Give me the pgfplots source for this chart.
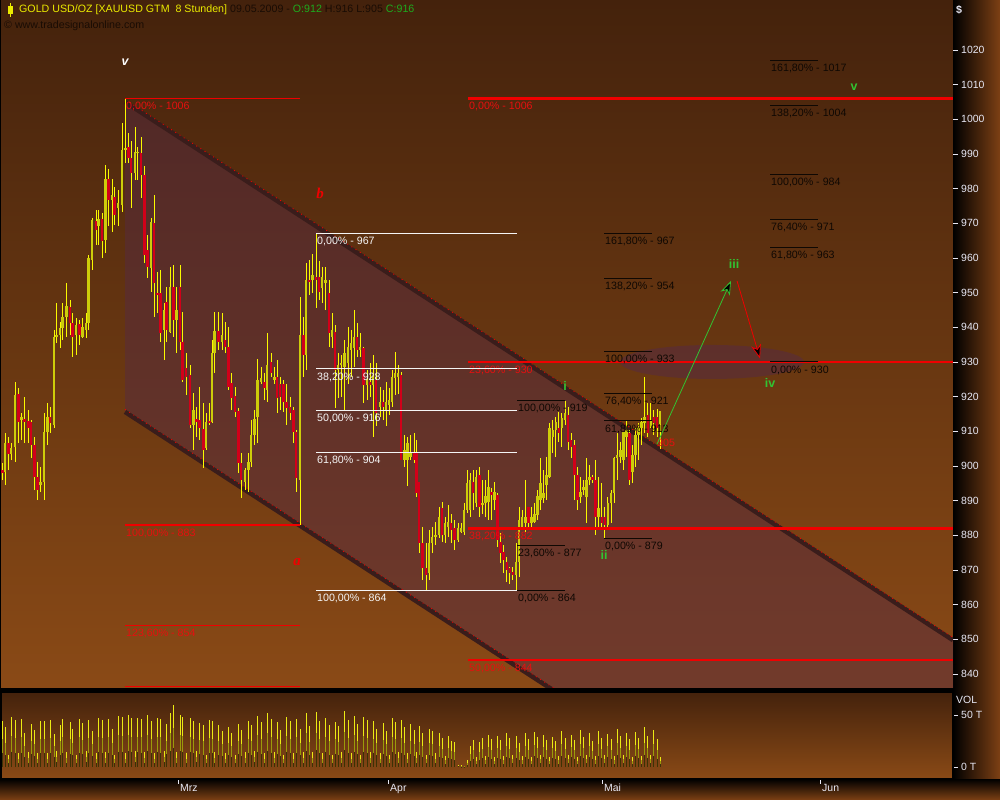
\documentclass[border=0pt]{standalone}
\usepackage{fontspec}
\setmainfont{Liberation Sans}
\newfontfamily\lserif{Liberation Serif}
\usepackage{pgfplots}
\pgfplotsset{compat=1.18}
\usepackage{pgfplotstable}
\usetikzlibrary{arrows.meta}

\definecolor{bgtop}{RGB}{68,34,12}
\definecolor{bgbot}{RGB}{138,74,22}
\definecolor{axisbrown}{RGB}{125,64,20}
\definecolor{chan}{RGB}{86,42,69}
\definecolor{chanline}{RGB}{58,29,27}
\definecolor{fibred}{RGB}{240,0,0}
\definecolor{labred}{RGB}{230,15,15}
\definecolor{labblack}{RGB}{15,8,3}
\definecolor{labwhite}{RGB}{245,245,245}
\definecolor{wick}{RGB}{250,250,0}
\definecolor{upbody}{RGB}{205,205,10}
\definecolor{downbody}{RGB}{210,0,25}
\definecolor{wavegreen}{RGB}{50,195,50}
\definecolor{ticklab}{RGB}{232,232,244}
\definecolor{hdrdark}{RGB}{25,12,4}
\definecolor{hdryellow}{RGB}{235,235,0}
\definecolor{hdrgreen}{RGB}{30,170,30}
\definecolor{volhi}{RGB}{235,235,20}
\definecolor{volmid}{RGB}{155,155,10}
\definecolor{vollo}{RGB}{60,50,5}

\newcommand{\lab}{\fontsize{10.7}{12}\selectfont}
\newcommand{\wave}{\fontsize{12.5}{14}\selectfont\bfseries}

\newcommand{\fib}[6]{%
  \draw[#1, line width=#2] (axis cs:#3,#5) -- (axis cs:#4,#5);
  \node[anchor=north west, inner sep=0pt, text=#1, font=\lab, xshift=1bp, yshift=-3.5bp] at (axis cs:#3,#5) {#6};}
\newcommand{\fibt}[7]{%
  \draw[#1, line width=#2] (axis cs:#3,#5) -- (axis cs:#4,#5);
  \node[anchor=north west, inner sep=0pt, text=#7, font=\lab, xshift=1bp, yshift=-3.5bp] at (axis cs:#3,#5) {#6};}

\pgfplotstableread{
x o h l c v
2.7 898.8 900.8 895.9 897.9 44
5.0 898.3 909.4 894.5 906.5 38
8.3 906.5 908.4 898.8 903.6 12
11.0 903.6 906.5 901.7 905.1 48
15.0 905.6 924.3 901.2 920.5 45
18.3 920.8 922.4 906.5 912.8 13
21.7 913.3 915.2 907.5 914.0 46
24.3 913.7 920.0 906.5 912.8 33
28.3 913.0 916.1 906.5 910.9 14
31.0 912.8 913.3 902.2 906.0 41
34.3 906.0 908.4 893.1 896.9 36
37.3 896.9 901.2 890.2 893.1 13
40.7 894.5 899.8 892.6 895.5 44
44.0 895.5 915.2 890.2 909.9 44
47.3 909.9 918.1 906.0 914.2 13
50.0 914.2 917.1 909.4 912.3 45
54.0 911.8 939.2 910.9 937.3 32
56.7 937.3 946.9 935.4 937.8 15
60.0 937.8 941.6 933.9 939.7 40
62.7 939.7 946.9 936.3 943.1 46
66.7 943.1 952.7 937.3 946.2 14
70.0 946.0 947.9 937.8 941.2 43
72.7 941.2 944.0 931.5 937.3 37
76.0 937.8 942.6 932.0 940.7 12
79.3 941.0 942.1 934.9 937.8 46
82.7 937.3 942.6 936.8 940.0 42
86.0 939.2 944.0 936.8 941.2 15
88.7 941.2 960.9 939.2 959.9 45
92.0 959.4 971.5 956.6 971.0 35
96.0 970.7 973.9 963.8 968.1 13
98.7 969.1 973.9 963.8 971.3 47
102.0 971.2 972.9 959.9 965.0 45
105.3 965.2 986.9 961.4 982.7 14
108.7 982.7 985.6 969.1 976.8 46
112.0 976.8 982.7 967.6 978.2 37
114.7 977.7 980.6 969.5 972.4 12
118.0 974.3 979.6 969.1 975.8 49
122.0 975.3 998.9 973.4 991.2 48
125.3 991.2 1006.0 987.3 991.7 13
128.3 992.0 996.0 987.3 988.8 50
131.0 988.8 993.6 974.3 984.5 47
135.0 984.5 997.9 982.5 990.7 15
137.7 990.2 992.1 982.5 990.7 47
141.0 990.2 995.0 977.2 984.0 46
144.3 984.0 986.4 958.5 960.9 14
147.7 962.3 966.7 954.1 957.5 50
151.0 957.0 971.5 950.3 970.5 44
154.0 970.0 978.2 943.1 952.7 13
157.3 950.0 956.1 944.0 949.3 47
160.7 949.8 956.6 935.9 938.5 46
164.0 939.2 946.9 930.6 945.0 15
166.7 947.4 951.7 935.9 939.2 41
170.0 938.7 957.5 938.3 951.7 52
173.3 951.7 958.0 937.3 942.1 60
176.7 942.1 951.7 932.5 945.0 14
180.0 951.7 958.0 933.5 935.9 50
182.7 935.9 944.5 924.3 924.8 48
186.0 928.2 932.5 920.5 925.8 13
190.0 926.2 929.1 910.9 911.8 47
193.3 911.8 921.0 904.6 916.2 44
196.7 913.7 917.1 908.5 912.8 15
199.3 913.3 922.9 907.5 910.9 42
203.3 910.6 918.1 899.3 904.6 40
206.0 905.1 915.2 904.6 912.8 12
209.3 913.0 918.1 911.8 912.3 45
212.0 912.8 936.3 912.3 932.5 44
214.3 932.5 944.5 926.7 939.0 14
218.7 938.9 944.5 933.5 935.9 40
222.0 935.9 944.0 933.5 937.8 35
225.0 936.3 941.6 932.5 934.4 13
228.3 934.4 940.2 921.9 922.9 38
231.7 923.8 926.7 916.2 919.5 33
235.0 920.2 922.9 914.2 915.7 12
238.3 916.0 916.6 897.9 900.8 41
241.0 900.8 903.7 890.7 896.0 36
245.0 895.5 899.3 893.1 898.8 14
248.3 898.8 903.7 892.6 901.2 44
251.0 901.2 913.3 899.8 908.9 40
254.3 908.9 916.2 906.1 913.7 15
257.7 914.2 931.0 906.5 924.8 49
261.0 924.3 928.7 923.8 925.3 43
264.3 924.3 926.7 919.0 922.4 13
267.0 921.9 938.3 918.6 929.1 52
271.0 930.1 932.5 925.8 926.7 46
274.3 924.8 928.7 923.8 925.8 14
277.0 925.8 930.6 915.2 919.5 43
280.0 923.8 925.8 916.2 920.0 36
283.3 923.8 924.8 915.7 918.6 12
286.7 918.6 923.8 911.8 916.6 48
290.0 917.1 920.0 913.3 915.2 44
293.3 916.2 917.1 906.5 909.9 13
296.0 909.9 910.4 892.6 896.5 46
300.0 896.0 948.8 883.0 937.8 37
303.3 937.8 943.1 925.8 932.0 14
306.0 932.0 958.5 927.7 953.7 52
309.3 953.8 959.4 949.3 953.2 39
312.7 953.7 961.3 949.8 955.1 14
316.0 954.6 967.0 945.5 953.7 53
319.0 954.6 959.0 947.9 950.3 44
322.0 951.2 957.5 946.9 954.6 13
325.7 952.7 957.5 945.0 953.7 47
329.0 949.8 953.7 934.4 938.3 40
332.0 937.3 944.0 934.0 939.2 12
335.0 938.7 940.7 916.6 927.7 43
338.0 927.7 932.5 919.5 929.1 39
341.0 929.1 932.0 920.0 929.6 14
344.7 928.7 936.4 916.2 932.5 54
348.0 929.6 940.2 923.8 934.4 45
351.0 933.5 939.2 925.8 935.4 13
354.0 933.9 945.0 928.7 937.3 49
357.0 937.3 941.2 931.5 933.5 41
360.0 933.5 938.3 931.5 934.4 12
363.3 933.9 934.4 918.1 923.4 48
367.0 923.4 927.7 919.0 924.8 45
370.0 924.3 929.6 920.0 923.4 14
373.0 923.4 932.0 908.5 925.8 44
376.0 924.8 929.6 911.4 915.2 37
380.0 917.1 922.9 914.2 918.6 13
383.0 918.6 921.9 913.3 917.1 42
386.0 916.2 924.3 911.4 918.6 35
389.0 917.6 922.4 914.7 919.0 12
392.0 918.6 927.7 917.1 925.8 47
395.0 925.3 933.0 920.5 926.7 43
398.0 925.8 929.1 920.9 926.7 14
401.0 926.3 927.2 901.7 901.7 45
404.7 901.7 909.0 899.8 904.6 38
407.7 901.7 908.5 894.1 906.5 13
410.7 902.7 909.0 901.7 904.1 41
414.0 904.1 909.4 900.8 901.7 36
416.7 904.1 907.5 891.2 892.1 14
419.0 895.5 895.5 874.8 877.7 39
422.7 877.7 882.5 867.1 870.5 33
426.0 870.5 877.7 864.3 868.6 12
429.0 869.1 881.5 867.1 877.7 37
432.0 877.7 882.5 874.8 879.6 35
435.7 879.6 883.9 877.2 880.1 13
439.0 880.1 888.3 879.1 885.4 33
442.0 887.8 889.7 878.2 880.1 28
445.0 880.1 885.4 877.7 883.5 11
448.0 882.5 888.8 879.6 883.9 30
451.0 883.5 886.3 877.7 881.5 25
454.7 882.0 884.4 875.8 878.7 24
458.0 878.7 883.5 878.2 882.0 2
461.0 881.1 883.5 880.6 882.0 1.5
464.0 881.1 889.2 880.1 887.3 1
467.0 887.3 898.9 886.3 895.0 7
470.0 887.3 897.9 885.4 896.0 20
473.1 895.5 898.9 887.3 892.1 26
476.1 889.2 898.9 888.3 896.9 10
479.2 897.4 899.8 885.4 888.3 24
482.3 888.8 896.0 886.3 889.2 28
485.3 889.2 896.0 885.4 891.2 11
488.4 889.7 898.9 884.4 894.0 31
491.5 892.6 893.6 884.4 891.6 27
494.5 890.2 895.5 887.3 892.6 10
497.6 891.6 892.1 876.7 878.6 30
500.7 878.2 880.6 871.9 874.8 26
503.7 875.3 877.2 869.0 872.9 11
506.8 872.4 873.9 866.6 870.0 33
509.8 870.5 871.0 866.0 869.0 28
512.9 869.5 871.0 867.1 868.6 12
516.0 868.6 877.7 864.2 872.4 30
519.0 872.4 888.3 868.1 884.4 23
522.1 882.5 887.3 881.5 885.4 11
525.2 883.5 896.0 881.1 885.4 33
528.2 888.3 888.3 882.5 883.5 27
531.3 883.5 888.3 881.5 885.4 10
534.4 883.9 889.2 883.5 886.3 34
537.4 885.9 893.1 884.4 891.2 29
540.5 890.2 902.2 887.3 895.0 12
543.6 890.7 898.9 889.2 892.1 31
546.6 894.5 902.7 890.2 897.4 26
549.7 896.9 912.3 896.4 910.9 10
552.8 908.5 913.3 903.7 910.4 29
555.8 910.4 914.2 902.7 912.8 25
558.9 910.9 915.7 907.0 909.4 11
561.9 910.9 915.2 905.6 913.7 35
565.0 913.3 918.8 911.8 915.2 28
568.1 914.7 917.1 904.6 907.0 12
571.1 907.5 909.4 902.2 905.6 31
574.2 906.1 907.5 890.2 897.4 26
577.3 897.4 899.8 887.3 890.2 10
580.3 891.2 896.9 889.2 892.6 36
583.4 893.1 896.0 891.6 894.0 29
586.5 891.2 902.2 883.5 896.0 12
589.5 896.0 900.3 894.5 896.9 33
592.6 896.9 897.4 895.0 896.0 25
595.7 896.0 901.7 880.1 885.4 11
598.7 885.4 896.9 882.5 887.8 35
601.8 885.4 895.0 882.5 883.5 28
604.9 885.4 888.3 879.1 883.0 12
607.9 883.0 891.2 882.5 889.2 32
611.0 889.2 893.1 883.5 892.1 27
614.1 892.1 902.7 889.2 902.2 11
617.1 902.2 909.4 896.0 903.2 37
620.2 902.7 907.0 900.8 904.6 30
623.3 901.7 909.9 898.9 909.9 12
626.3 908.5 913.3 902.7 910.4 33
629.4 909.4 910.4 894.5 896.0 27
632.4 898.4 906.1 895.0 903.2 10
635.5 903.2 910.9 899.8 909.0 34
638.6 909.0 912.3 901.7 910.9 28
641.6 910.9 913.7 906.1 912.8 11
644.7 912.3 925.8 909.4 914.2 38
647.8 914.7 918.1 908.5 909.4 30
650.8 911.3 918.1 910.9 913.3 12
653.9 914.2 916.2 909.0 912.3 36
657.0 914.2 916.3 908.5 910.9 27
660.0 912.0 916.0 905.0 916.0 10
}\candles

\begin{document}
\begin{tikzpicture}
% backgrounds
\begin{scope}[x=1bp,y=1bp]
\fill[axisbrown] (0,0) rectangle (1000,800);
\shade[top color=bgtop, bottom color=bgbot] (0,112) rectangle (953,800);
\fill[black] (0,108) rectangle (953,112);
\shade[top color=bgtop, bottom color=bgbot] (0,21) rectangle (953,108);
\shade[top color=black, bottom color=axisbrown] (0,0) rectangle (1000,21);
\shade[left color=black, right color=axisbrown] (953,21) rectangle (1000,800);
\fill[black] (0,112) rectangle (1.5,800);
\end{scope}

% ---------------- main price panel ----------------
\begin{axis}[at={(0bp,112bp)}, anchor=south west, scale only axis,
  width=953bp, height=688bp,
  xmin=0, xmax=953, ymin=835.96, ymax=1034.42,
  axis line style={draw=none},
  xtick=\empty,
  ytick={840,850,...,1020},
  ytick pos=right, yticklabel pos=right,
  tick align=outside, major tick length=5bp,
  tick style={ticklab, line width=0.8bp},
  yticklabel style={font=\fontsize{10.5}{12}\selectfont, text=ticklab, inner sep=3bp},
  /pgf/number format/1000 sep={},
  /pgf/number format/assume math mode=true,
  clip=true]

% channel
\fill[chan, fill opacity=0.46] (axis cs:125,1005) -- (axis cs:953,849.75) -- (axis cs:953,830) -- (axis cs:581.5,830) -- (axis cs:125,915.6) -- cycle;
% target ellipse
\fill[chan, fill opacity=0.5] (axis cs:712,930) ellipse [x radius=92bp, y radius=17bp];
% channel borders
\draw[chanline, line width=4.5bp] (axis cs:125,1005) -- (axis cs:953,849.75);
\draw[chanline, line width=4.5bp] (axis cs:125,915.6) -- (axis cs:620,822.8);
\draw[fibred, line width=0.8bp, dash pattern=on 1bp off 4bp, yshift=2.5bp] (axis cs:125,1005) -- (axis cs:953,849.75);
\draw[fibred, line width=0.8bp, dash pattern=on 1bp off 4bp, yshift=2.5bp] (axis cs:125,915.6) -- (axis cs:620,822.8);

% candles: wicks
\addplot[draw=none, mark=none, forget plot,
  error bars/.cd, y dir=both, y explicit, error mark=none,
  error bar style={draw=wick, line width=1bp}]
  table[x=x, y expr={(\thisrow{h}+\thisrow{l})/2}, y error expr={(\thisrow{h}-\thisrow{l})/2}] {\candles};
% up bodies
\addplot[draw=none, mark=none, forget plot,
  restrict expr to domain={\thisrow{c}-\thisrow{o}}{0:1000},
  error bars/.cd, y dir=both, y explicit, error mark=none,
  error bar style={draw=upbody, line width=2.6bp}]
  table[x=x, y expr={(\thisrow{o}+\thisrow{c})/2}, y error expr={max(abs(\thisrow{c}-\thisrow{o})/2,0.25)}] {\candles};
% down bodies
\addplot[draw=none, mark=none, forget plot,
  restrict expr to domain={\thisrow{c}-\thisrow{o}}{-1000:-0.001},
  error bars/.cd, y dir=both, y explicit, error mark=none,
  error bar style={draw=downbody, line width=2.6bp}]
  table[x=x, y expr={(\thisrow{o}+\thisrow{c})/2}, y error expr={max(abs(\thisrow{c}-\thisrow{o})/2,0.25)}] {\candles};

% red fib group 1
\fibt{fibred}{1.4bp}{125}{300}{1006}{0,00\% - 1006}{labred}
\fibt{fibred}{1.4bp}{125}{300}{883}{100,00\% - 883}{labred}
\fibt{fibred}{1.4bp}{125}{300}{854}{123,60\% - 854}{labred}
\draw[fibred, line width=1.4bp] (axis cs:125,836.4) -- (axis cs:300,836.4);
% red fib group 2
\fibt{fibred}{2.4bp}{468}{953}{1006}{0,00\% - 1006}{labred}
\fibt{fibred}{2.4bp}{468}{953}{930}{23,60\% - 930}{labred}
\fibt{fibred}{2.4bp}{468}{953}{882}{38,20\% - 882}{labred}
\fibt{fibred}{2.4bp}{468}{953}{844}{50,00\% - 844}{labred}
% white group
\fib{labwhite}{1bp}{316}{517}{967}{0,00\% - 967}
\fib{labwhite}{1bp}{316}{517}{928}{38,20\% - 928}
\fib{labwhite}{1bp}{316}{517}{916}{50,00\% - 916}
\fib{labwhite}{1bp}{316}{517}{904}{61,80\% - 904}
\fib{labwhite}{1bp}{316}{517}{864}{100,00\% - 864}
% black groups
\fib{labblack}{1bp}{517}{565}{919}{100,00\% - 919}
\fib{labblack}{1bp}{517}{565}{877}{23,60\% - 877}
\fib{labblack}{1bp}{517}{565}{864}{0,00\% - 864}
\fib{labblack}{1bp}{604}{652}{967}{161,80\% - 967}
\fib{labblack}{1bp}{604}{652}{954}{138,20\% - 954}
\fib{labblack}{1bp}{604}{652}{933}{100,00\% - 933}
\fib{labblack}{1bp}{604}{652}{921}{76,40\% - 921}
\fib{labblack}{1bp}{604}{652}{913}{61,80\% - 913}
\fib{labblack}{1bp}{604}{652}{879}{0,00\% - 879}
\fib{labblack}{1bp}{770}{818}{1017}{161,80\% - 1017}
\fib{labblack}{1bp}{770}{818}{1004}{138,20\% - 1004}
\fib{labblack}{1bp}{770}{818}{984}{100,00\% - 984}
\fib{labblack}{1bp}{770}{818}{971}{76,40\% - 971}
\fib{labblack}{1bp}{770}{818}{963}{61,80\% - 963}
\fib{labblack}{1bp}{770}{818}{930}{0,00\% - 930}
\node[anchor=west, inner sep=0pt, text=labred, font=\lab] at (axis cs:657,906.6) {905};

% wave labels
\node[text=white, font=\fontsize{12.5}{14}\selectfont\bfseries\itshape] at (axis cs:125,1016.5) {v};
\node[text=fibred, font=\fontsize{15}{16}\selectfont\lserif\bfseries\itshape] at (axis cs:320,978.7) {b};
\node[text=fibred, font=\fontsize{15}{16}\selectfont\lserif\bfseries\itshape] at (axis cs:297,872.3) {a};
\node[text=wavegreen, font=\wave] at (axis cs:565,923.1) {i};
\node[text=wavegreen, font=\wave] at (axis cs:604,874.3) {ii};
\node[text=wavegreen, font=\wave] at (axis cs:734,958.3) {iii};
\node[text=wavegreen, font=\wave] at (axis cs:770,923.9) {iv};
\node[text=wavegreen, font=\wave] at (axis cs:854,1009.3) {v};

% projection arrows
\draw[wavegreen, line width=0.8bp, -{Stealth[length=14bp, width=10bp, inset=4bp, fill=black]}] (axis cs:657,906.3) -- (axis cs:731,953.4);
\draw[fibred, line width=0.8bp, -{Stealth[length=14bp, width=10bp, inset=4bp, fill=black]}] (axis cs:737,953.4) -- (axis cs:760,931.0);
\end{axis}

% ---------------- volume panel ----------------
\begin{axis}[at={(0bp,21bp)}, anchor=south west, scale only axis,
  width=953bp, height=87bp,
  xmin=0, xmax=953, ymin=-11.5, ymax=72.1,
  axis line style={draw=none},
  ytick={0,50}, yticklabels={0 T,50 T},
  ytick pos=right, yticklabel pos=right,
  xtick={178,388,602,820}, xticklabels={Mrz,Apr,Mai,Jun},
  xtick pos=bottom, xticklabel pos=bottom,
  tick align=outside, major tick length=5bp,
  tick style={ticklab, line width=0.8bp},
  yticklabel style={font=\fontsize{10.5}{12}\selectfont, text=ticklab, inner sep=3bp},
  xticklabel style={font=\fontsize{10.5}{12}\selectfont, text=ticklab, anchor=north west, inner sep=1bp, xshift=1bp, yshift=1bp},
  clip=true]
\addplot[ycomb, draw=volhi, line width=1bp, mark=none] table[x=x, y=v] {\candles};
\addplot[ycomb, draw=volmid, line width=1bp, mark=none] table[x=x, y expr={0.62*\thisrow{v}}] {\candles};
\addplot[ycomb, draw=vollo, line width=1bp, mark=none] table[x=x, y expr={0.3*\thisrow{v}}] {\candles};
\end{axis}

\begin{scope}[x=1bp,y=1bp]
\draw[black, line width=1.5bp] (1,21) rectangle (953,108);
% header and axis captions
\fill[hdryellow] (8,786) rectangle (13,794);
\draw[hdryellow, line width=1bp] (10.5,783) -- (10.5,797);
\node[anchor=west, inner sep=0pt, font=\lab] at (19,790) {\color{hdryellow}GOLD USD/OZ [XAUUSD GTM\ \ 8 Stunden] \color{hdrdark}09.05.2009 - \color{hdrgreen}O:912 \color{hdrdark}H:916 L:905 \color{hdrgreen}C:916};
\node[anchor=west, inner sep=0pt, font=\lab, text=hdrdark] at (4,774) {\textcopyright\ www.tradesignalonline.com};
\node[anchor=west, inner sep=0pt, font=\lab\bfseries, text=ticklab] at (956,790) {\$};
\node[anchor=west, inner sep=0pt, font=\fontsize{10.5}{12}\selectfont, text=ticklab] at (956,100) {VOL};
\pgfresetboundingbox
\path[use as bounding box] (0,0) rectangle (1000,800);
\end{scope}
\end{tikzpicture}
\end{document}
